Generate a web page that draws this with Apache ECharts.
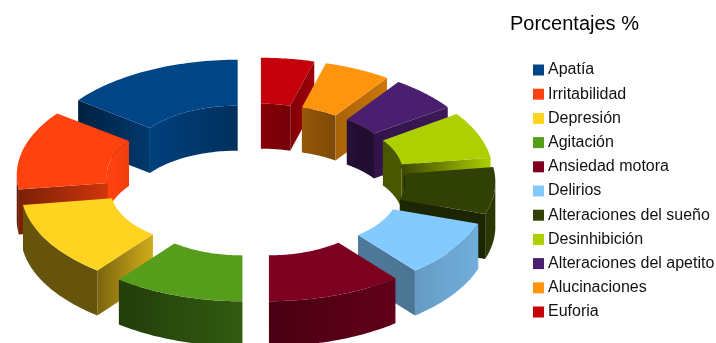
<!DOCTYPE html>
<html>
<head>
<meta charset="utf-8">
<style>html,body{margin:0;padding:0;background:#fff}#chart{width:716px;height:343px}</style>
<script src="https://cdn.jsdelivr.net/npm/echarts@6/dist/echarts.min.js"></script>
</head>
<body>
<div id="chart"></div>
<script>
// Percentage of each symptom, in drawing order (counter-clockwise from 12 o'clock)
const categories = ['Apatía','Irritabilidad','Depresión','Agitación','Ansiedad motora','Delirios',
  'Alteraciones del sueño','Desinhibición','Alteraciones del apetito','Alucinaciones','Euforia'];
const percentages = [14.7, 12.6, 12.1, 10.6, 10.9, 9, 7.4, 7.4, 5.6, 5.4, 4.3];
const colors = ['#004586','#ff420e','#ffd320','#579d1c','#7e0021','#83caff',
  '#314004','#aecf00','#4b1f6f','#ff950e','#c5000b'];

// Ring geometry for the tilted, exploded donut
const CX = 255.5, CY = 180, TILT = 0.51, OUTER = 200, INNER = 110, EXPLODE = 40, DEPTH = 45;
const RAD = Math.PI / 180;
const total = percentages.reduce((a, b) => a + b, 0);

function shade(hex, f) {
  const n = parseInt(hex.slice(1), 16);
  const c = [n >> 16, (n >> 8) & 255, n & 255].map(v => Math.round(Math.min(255, v * f)));
  return `rgb(${c[0]},${c[1]},${c[2]})`;
}
const clamp = (v, lo, hi) => Math.max(lo, Math.min(hi, v));

function project(radius, deg, mid, drop) {
  const a = deg * RAD, m = mid * RAD;
  return [
    CX + radius * Math.cos(a) + EXPLODE * Math.cos(m),
    CY - TILT * (radius * Math.sin(a) + EXPLODE * Math.sin(m)) + drop
  ];
}
function arc(radius, from, to, mid, drop) {
  const pts = [], steps = 40;
  for (let i = 0; i <= steps; i++) pts.push(project(radius, from + (to - from) * i / steps, mid, drop));
  return pts;
}
function face(points, fill) {
  return { type: 'polygon', shape: { points }, style: { fill, stroke: null } };
}

// Curved wall with a horizontal gradient lit according to the surface normal
function wall(radius, from, to, mid, color, lightAt) {
  const pts = arc(radius, from, to, mid, 0).concat(arc(radius, to, from, mid, DEPTH));
  const xs = pts.map(p => p[0]);
  const x0 = Math.min(...xs), x1 = Math.max(...xs);
  const stops = [];
  for (let i = 0; i <= 16; i++) {
    const deg = from + (to - from) * i / 16;
    stops.push({
      offset: clamp((project(radius, deg, mid, 0)[0] - x0) / Math.max(1, x1 - x0), 0, 1),
      color: shade(color, lightAt(deg))
    });
  }
  stops.sort((a, b) => a.offset - b.offset);
  return face(pts, new echarts.graphic.LinearGradient(0, 0, 1, 0, stops));
}

// Flat radial cut, shaded from the inner edge to the outer edge
function cut(deg, mid, color) {
  const norm = ((deg % 360) + 360) % 360;
  let outerF, innerF;
  if (Math.cos(deg * RAD) < 0) { outerF = 0.48; innerF = 0.82; }
  else if (norm > 270) { outerF = 0.58; innerF = 0.6; }
  else if (norm < 20) { outerF = 1; innerF = 0.35; }
  else { outerF = 0.8; innerF = 0.66; }
  const io = project(INNER, deg, mid, 0), oo = project(OUTER, deg, mid, 0);
  const pts = [io, oo, project(OUTER, deg, mid, DEPTH), project(INNER, deg, mid, DEPTH)];
  const toRight = io[0] > oo[0];
  return face(pts, new echarts.graphic.LinearGradient(0, 0, 1, 0, [
    { offset: 0, color: shade(color, toRight ? outerF : innerF) },
    { offset: 1, color: shade(color, toRight ? innerF : outerF) }
  ]));
}

const outerLight = deg => clamp(0.58 + 0.3 * Math.cos(deg * RAD), 0.4, 1);
const innerLight = deg => clamp(0.68 - 0.33 * Math.cos(deg * RAD), 0.42, 1);

// Degree ranges of [a, b] where the test holds
function visibleRanges(a, b, test) {
  const out = [];
  let seg = null;
  for (let d = Math.ceil(a); d <= b; d++) {
    if (test(d)) { if (!seg) seg = [d, d]; seg[1] = d; }
    else if (seg) { out.push(seg); seg = null; }
  }
  if (seg) out.push(seg);
  return out.map(s => [Math.max(a, s[0] - 1), Math.min(b, s[1] + 1)]);
}

let cursor = 90;
const seriesList = categories.map((name, i) => {
  const start = cursor, end = cursor + percentages[i] / total * 360;
  cursor = end;
  const mid = (start + end) / 2;
  return {
    name,
    type: 'custom',
    coordinateSystem: 'none',
    silent: true,
    // Far slices are painted first
    z: 2 + Math.round((1 - Math.sin(mid * RAD)) * 100),
    itemStyle: { color: colors[i] },
    data: [[percentages[i]]],
    renderItem() {
      const color = colors[i], children = [];
      // Inner wall shows on the far half, outer wall on the near half
      visibleRanges(start, end, d => Math.sin(d * RAD) > 0).forEach(s =>
        children.push(wall(INNER, s[0], s[1], mid, color, innerLight)));
      if (Math.cos(end * RAD) < -1e-6) children.push(cut(end, mid, color));
      if (Math.cos(start * RAD) > 1e-6) children.push(cut(start, mid, color));
      visibleRanges(start, end, d => Math.sin(d * RAD) < 0).forEach(s =>
        children.push(wall(OUTER, s[0], s[1], mid, color, outerLight)));
      children.push(face(arc(OUTER, start, end, mid, 0).concat(arc(INNER, end, start, mid, 0)), color));
      return { type: 'group', children };
    }
  };
});

const chart = echarts.init(document.getElementById('chart'), null, { renderer: 'canvas' });
chart.setOption({
  animation: false,
  backgroundColor: '#ffffff',
  title: {
    text: 'Porcentajes %',
    left: 505, top: 7,
    textStyle: { fontFamily: 'Liberation Sans', fontSize: 20, fontWeight: 'normal', color: '#000', lineHeight: 24 }
  },
  legend: {
    orient: 'vertical',
    left: 528, top: 57,
    data: categories,
    icon: 'rect',
    itemWidth: 11, itemHeight: 11,
    itemGap: 8.2,
    selectedMode: false,
    textStyle: { fontFamily: 'Liberation Sans', fontSize: 16, color: '#111', lineHeight: 16, padding: [0, 0, 0, -1] }
  },
  series: seriesList
});
</script>
</body>
</html>
